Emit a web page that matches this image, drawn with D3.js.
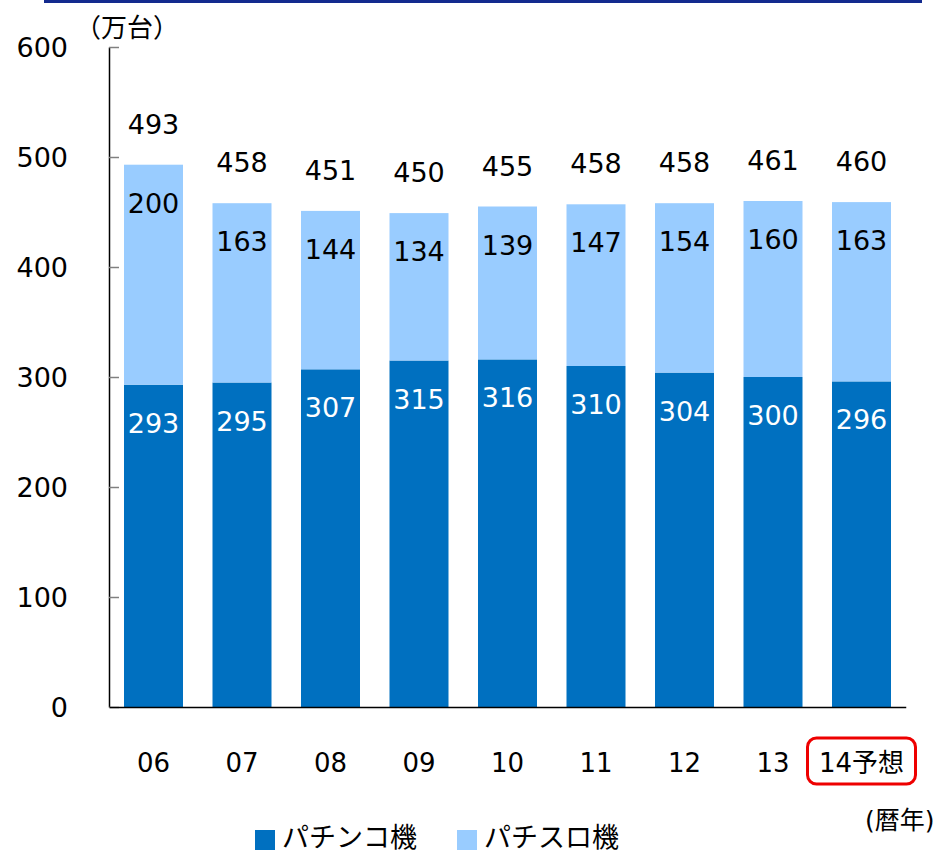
<!DOCTYPE html>
<html>
<head>
<meta charset="utf-8">
<script src="https://cdn.jsdelivr.net/npm/d3@7"></script>
<style>
  body { margin: 0; background: #fff; }
  text { font-family: "DejaVu Sans", "Noto Sans CJK JP", sans-serif; }
</style>
</head>
<body>
<div id="chart"></div>
<script>
var years = ["06", "07", "08", "09", "10", "11", "12", "13", "14予想"];
var pachinko = [293, 295, 307, 315, 316, 310, 304, 300, 296];
var pachislot = [200, 163, 144, 134, 139, 147, 154, 160, 163];
var totals = [493, 458, 451, 450, 455, 458, 458, 461, 460];
var yTicks = [0, 100, 200, 300, 400, 500, 600];
var seriesNames = ["パチンコ機", "パチスロ機"];
var colors = ["#0070C0", "#99CCFF"];

var width = 943, height = 852;

var svg = d3.select("#chart").append("svg")
  .attr("width", width)
  .attr("height", height);

// top band
svg.append("rect")
  .attr("x", 44).attr("y", 0)
  .attr("width", 878).attr("height", 3)
  .attr("fill", "#132a8e");

var x = d3.scaleBand()
  .domain(years)
  .range([109.25, 905.75])
  .paddingInner(1 / 3)
  .paddingOuter(1 / 6);

var y = d3.scaleLinear()
  .domain([0, 600])
  .range([707, 47]);

var rows = years.map(function(yr, i) {
  return { year: yr, pachinko: pachinko[i], pachislot: pachislot[i], total: totals[i] };
});

var stack = d3.stack().keys(["pachinko", "pachislot"]);
var layers = stack(rows);

var g = svg.selectAll(".layer")
  .data(layers)
  .enter().append("g")
  .attr("class", "layer")
  .attr("fill", function(d, i) { return colors[i]; });

g.selectAll("rect")
  .data(function(d) { return d; })
  .enter().append("rect")
  .attr("x", function(d) { return x(d.data.year); })
  .attr("y", function(d) { return y(d[1]); })
  .attr("width", x.bandwidth())
  .attr("height", function(d) { return y(d[0]) - y(d[1]); });

// segment labels
g.selectAll("text")
  .data(function(d) { return d.map(function(p) { p.key = d.key; return p; }); })
  .enter().append("text")
  .attr("x", function(d) { return x(d.data.year) + x.bandwidth() / 2; })
  .attr("y", function(d) { return y(d[1]) + 48; })
  .attr("text-anchor", "middle")
  .attr("font-size", "27px")
  .attr("fill", function(d) { return d.key == "pachinko" ? "#fff" : "#000"; })
  .text(function(d) { return d.data[d.key]; });

// total labels
svg.selectAll(".total")
  .data(rows)
  .enter().append("text")
  .attr("class", "total")
  .attr("x", function(d) { return x(d.year) + x.bandwidth() / 2; })
  .attr("y", function(d) { return y(d.pachinko + d.pachislot) - 31; })
  .attr("text-anchor", "middle")
  .attr("font-size", "27px")
  .attr("fill", "#000")
  .text(function(d) { return d.total; });

// y axis
var yAxis = svg.append("g")
  .attr("transform", "translate(109,0)")
  .call(d3.axisLeft(y).tickValues(yTicks).tickSizeInner(-10).tickSizeOuter(0).tickPadding(41));
yAxis.select(".domain").attr("stroke", "#000").attr("stroke-width", 1.5);
yAxis.selectAll(".tick line").attr("stroke", "#808080").attr("stroke-width", 1.5);
yAxis.selectAll(".tick text")
  .attr("font-size", "27px")
  .attr("font-family", "DejaVu Sans")
  .attr("fill", "#000")
  .attr("dy", "0.36em");

// x axis
var xAxis = svg.append("g")
  .attr("transform", "translate(0,707)")
  .call(d3.axisBottom(x).tickSize(0).tickPadding(0));
xAxis.select(".domain").attr("stroke", "#000").attr("stroke-width", 1.5);
xAxis.selectAll(".tick text")
  .attr("font-size", "26px")
  .attr("font-family", null)
  .attr("fill", "#000")
  .attr("dy", null)
  .attr("y", 65);

// highlight box on forecast year
var last = years[years.length - 1];
svg.append("rect")
  .attr("x", x(last) + x.bandwidth() / 2 - 54)
  .attr("y", 738)
  .attr("width", 108)
  .attr("height", 46)
  .attr("rx", 9)
  .attr("fill", "none")
  .attr("stroke", "#ee0000")
  .attr("stroke-width", 3);

// unit labels
svg.append("text")
  .attr("x", 75).attr("y", 37)
  .attr("font-size", "26px")
  .text("（万台）");
svg.append("text")
  .attr("x", 865).attr("y", 829)
  .attr("font-size", "25px")
  .text("(暦年)");

// legend
var legendX = [255, 457];
var legend = svg.selectAll(".legend")
  .data(seriesNames)
  .enter().append("g")
  .attr("class", "legend")
  .attr("transform", function(d, i) { return "translate(" + legendX[i] + ",830)"; });
legend.append("rect")
  .attr("width", 20).attr("height", 20)
  .attr("fill", function(d, i) { return colors[i]; });
legend.append("text")
  .attr("x", 27).attr("y", 17)
  .attr("font-size", "27px")
  .text(function(d) { return d; });
</script>
</body>
</html>
